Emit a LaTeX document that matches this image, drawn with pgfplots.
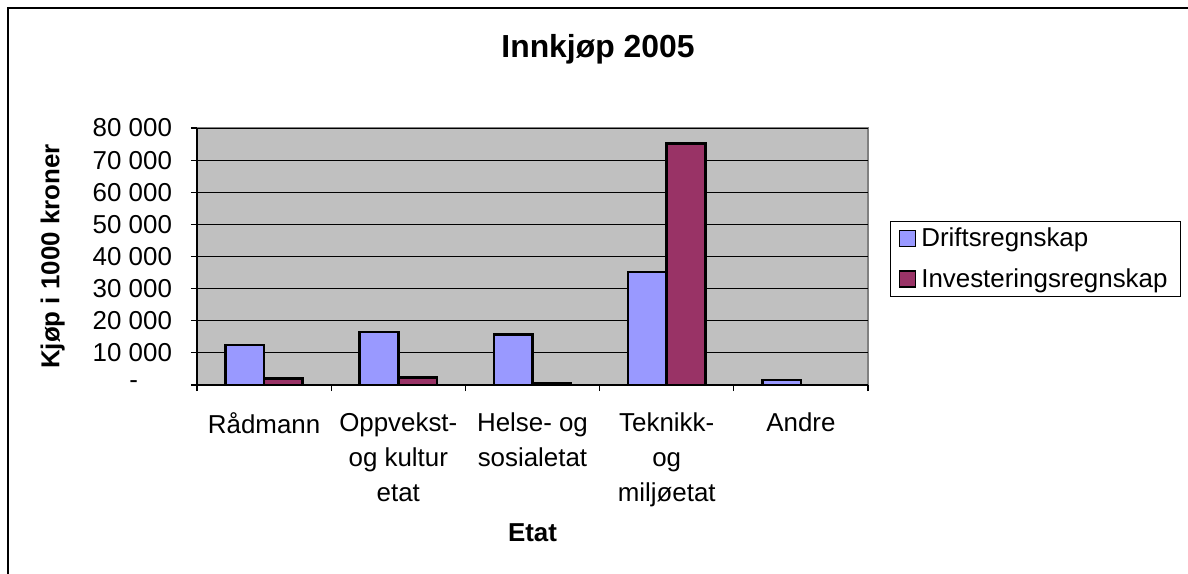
\documentclass[border=0pt]{standalone}
\usepackage{fontspec}
\setmainfont{Liberation Sans}
\usepackage{pgfplots}
\pgfplotsset{compat=1.18}
\definecolor{drift}{HTML}{9999FF}
\definecolor{inv}{HTML}{993366}
\definecolor{plotbg}{HTML}{C0C0C0}
\begin{document}
\begin{tikzpicture}
\useasboundingbox (0,0) rectangle (594bp,287bp);
\draw[line width=1bp] (4bp,0) -- (4bp,283bp) -- (594bp,283bp);
\begin{axis}[
  at={(98.5bp,94.5bp)}, anchor=south west,
  scale only axis, width=335.5bp, height=128.5bp,
  xmin=-0.5, xmax=4.5, ymin=0, ymax=80000,
  scaled y ticks=false,
  ybar=0pt, bar width=19.3bp,
  axis lines=left, axis line style={-, line width=0.6bp, black},
  axis background/.style={fill=plotbg, draw=gray, line width=0.6bp},
  ymajorgrids, grid style={black, line width=0.5bp},
  tick align=outside, major tick length=3bp, minor tick length=3bp,
  tick style={black, line width=0.6bp},
  every major x tick/.append style={draw=none},
  ytick={0,10000,20000,30000,40000,50000,60000,70000,80000},
  yticklabels={{-\hspace{17bp}\rule{0pt}{0pt}},10 000,20 000,30 000,40 000,50 000,60 000,70 000,80 000},
  xtick={0,1,2,3,4},
  minor xtick={-0.5,0.5,1.5,2.5,3.5,4.5},
  xticklabels={{Rådmann},{Oppvekst-\\og kultur\\etat},{Helse- og\\sosialetat},{Teknikk-\\og\\miljøetat},{Andre}},
  ticklabel style={font=\fontsize{13}{17.5}\selectfont},
  xticklabel style={align=center, anchor=north, yshift=-7.5bp},
  yticklabel style={xshift=-6bp},
  title={Innkjøp 2005},
  every axis title shift=0pt,
  title style={font=\bfseries\fontsize{16}{19}\selectfont, at={(axis description cs:0.5976,1.276)}, anchor=base},
  xlabel={Etat},
  xlabel style={font=\bfseries\fontsize{13}{15}\selectfont, at={(axis description cs:0.5,-0.609)}, anchor=base},
  ylabel={Kjøp i 1000 kroner},
  ylabel style={font=\bfseries\fontsize{13}{15}\selectfont, at={(axis description cs:-0.215,0.5)}, anchor=center},
  legend style={at={(1.0328,0.638)}, anchor=north west, draw=black, line width=0.5bp,
    font=\fontsize{13}{15}\selectfont, inner xsep=4bp, inner ysep=1.5bp, row sep=6.5bp,
    nodes={inner ysep=1.5bp, inner xsep=2.5bp}},
  /tikz/every even column/.append style={column sep=1.5bp},
  legend cell align=left,
  clip=false,
]
\addplot[fill=drift, draw=black, line width=1.25bp,
  legend image code/.code={\draw[fill=drift, draw=black, line width=0.9bp] (0bp,-4bp) rectangle (8bp,4bp);}]
  coordinates {(0,12400) (1,16500) (2,15700) (3,35200) (4,1560)};
\addplot[fill=inv, draw=black, line width=1.25bp,
  legend image code/.code={\draw[fill=inv, draw=black, line width=0.9bp] (0bp,-4bp) rectangle (8bp,4bp);}]
  coordinates {(0,2080) (1,2390) (2,520) (3,75100)};
\legend{Driftsregnskap,Investeringsregnskap}
\end{axis}
\end{tikzpicture}
\end{document}
